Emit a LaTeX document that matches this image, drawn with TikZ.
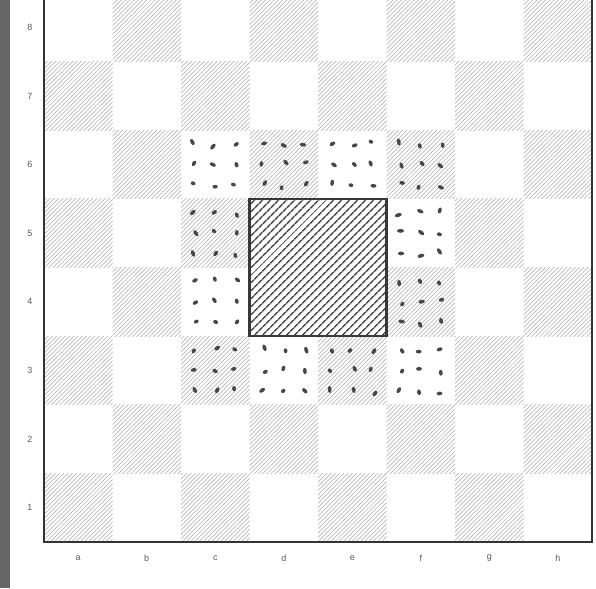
\documentclass[tikz,border=0pt]{standalone}
\usepackage{fontspec}
\setsansfont{Liberation Sans}
\usetikzlibrary{patterns,patterns.meta}
\begin{document}
\begin{tikzpicture}[x=1pt,y=1pt,
  lab/.style={font=\sffamily\small, text=black!65},
  darksq/.style={pattern={Lines[angle=45,distance=3pt,line width=0.7pt]}, pattern color=black!28},
  centresq/.style={pattern={Lines[angle=45,distance=5.4pt,line width=1.7pt]}, pattern color=black!68},
  blob/.style={fill=black!72}
]
\useasboundingbox (0,0) rectangle (596,588);
\def\sx{68.5}
\def\sy{68.6}
\def\ox{44}
\def\oy{46}
\begin{scope}
\clip (0,0) rectangle (596,588);
\fill[black!60] (0,0) rectangle (10,588);
% squares
\foreach \f in {0,...,7}{
  \foreach \r in {0,...,7}{
    \pgfmathtruncatemacro{\sqpar}{mod(\f+\r,2)}
    \ifnum\sqpar=0
      \fill[darksq] (\ox+\f*\sx,\oy+\r*\sy) rectangle (\ox+\f*\sx+\sx,\oy+\r*\sy+\sy);
    \fi
  }
}
% ring of marked squares
\pgfmathsetseed{11}
\foreach \f in {2,...,5}{
  \foreach \r in {2,...,5}{
    \pgfmathtruncatemacro{\inner}{(\f>2)*(\f<5)*(\r>2)*(\r<5)}
    \ifnum\inner=0
      \foreach \i in {0.2,0.5,0.8}{
        \foreach \j in {0.2,0.5,0.8}{
          \pgfmathsetmacro{\ang}{rnd*180}
          \pgfmathsetmacro{\dx}{rand*2.5}
          \pgfmathsetmacro{\dy}{rand*2.5}
          \pgfmathsetmacro{\rx}{2.4+rnd*1.2}
          \fill[blob, shift={(\ox+\f*\sx+\i*\sx+\dx,\oy+\r*\sy+\j*\sy+\dy)}, rotate=\ang] (0,0) ellipse [x radius=\rx, y radius=1.9];
        }
      }
    \fi
  }
}
% centre block d4-e5
\fill[white] (\ox+3*\sx,\oy+3*\sy) rectangle (\ox+5*\sx,\oy+5*\sy);
\fill[centresq] (\ox+3*\sx,\oy+3*\sy) rectangle (\ox+5*\sx,\oy+5*\sy);
\draw[line width=2.4pt, black!78] (\ox+3*\sx,\oy+3*\sy) rectangle (\ox+5*\sx,\oy+5*\sy);
% border
\draw[line width=2pt, black!80] (\ox,600) -- (\ox,\oy) -- (\ox+8*\sx,\oy) -- (\ox+8*\sx,600);
\end{scope}
% labels
\foreach \r in {1,...,8}{
  \node[lab] (rank\r) at (30,\oy+\r*\sy-0.5*\sy) {\r};
}
\foreach \l [count=\i] in {a,b,c,d,e,f,g,h}{
  \node[lab] (file\l) at (\ox+\i*\sx-0.5*\sx,30) {\l};
}
\end{tikzpicture}
\end{document}
